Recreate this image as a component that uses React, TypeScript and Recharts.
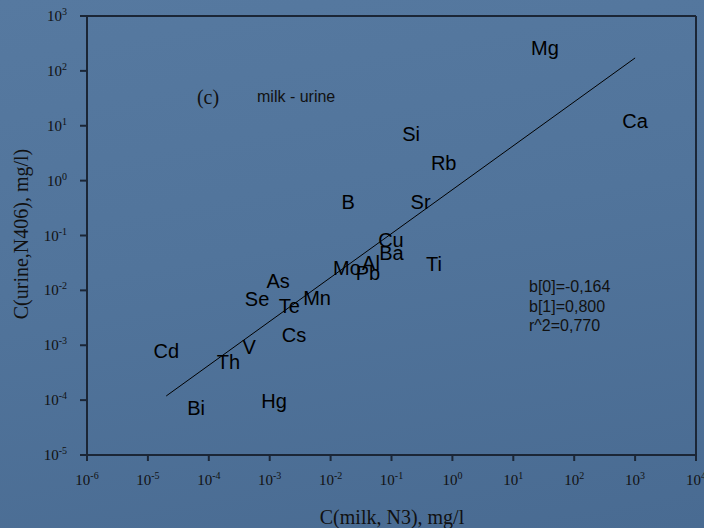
import { ScatterChart, Scatter, XAxis, YAxis, ReferenceLine } from "recharts";

// element symbols, milk concentration (x) and urine concentration (y), mg/l
const elements = ["Mg", "Ca", "Si", "Rb", "B", "Sr", "Cu", "Ba", "Ti", "Mo", "Al", "Pb", "As", "Se", "Te", "Mn", "Cs", "V", "Th", "Cd", "Bi", "Hg"];
const milk = [33, 1000, 0.21, 0.72, 0.0195, 0.3, 0.098, 0.1, 0.5, 0.0186, 0.046, 0.041, 0.00138, 0.00062, 0.0021, 0.006, 0.0025, 0.00046, 0.00021, 0.00002, 0.000062, 0.00118];
const urine = [263, 12.3, 7.1, 2.1, 0.41, 0.41, 0.083, 0.048, 0.03, 0.026, 0.032, 0.021, 0.0148, 0.0071, 0.0052, 0.0072, 0.00155, 0.00093, 0.0005, 0.00079, 0.000072, 0.000098];

// regression line endpoints (log-log fit)
const fitStart = { x: 0.00002, y: 0.000119 };
const fitEnd = { x: 1000, y: 172 };

const xTicks = [1e-6, 1e-5, 1e-4, 1e-3, 1e-2, 1e-1, 1, 10, 100, 1000, 10000];
const yTicks = [1e-5, 1e-4, 1e-3, 1e-2, 1e-1, 1, 10, 100, 1000];

const fitLines = ["b[0]=-0,164", "b[1]=0,800", "r^2=0,770"];

const data = elements.map((name, i) => ({ name, x: milk[i], y: urine[i] }));

const axisColor = "#1b2636";
const serif = "'Liberation Serif', 'Times New Roman', serif";
const sans = "'Liberation Sans', Arial, sans-serif";

function exp(v: number) {
	return String(Math.round(Math.log10(v)));
}

function XTick(props: any) {
	const { x, y, payload } = props;
	return (
		<text x={x} y={y + 22} textAnchor="middle" fontFamily={serif} fontSize={15} fill="#111">
			<tspan>10</tspan>
			<tspan dy={-6} fontSize={10}>{exp(payload.value)}</tspan>
		</text>
	);
}

function YTick(props: any) {
	const { x, y, payload } = props;
	return (
		<text x={x - 11} y={y + 5} textAnchor="end" fontFamily={serif} fontSize={15} fill="#111">
			<tspan>10</tspan>
			<tspan dy={-6} fontSize={10}>{exp(payload.value)}</tspan>
		</text>
	);
}

function ElementLabel(props: any) {
	const { cx, cy, payload } = props;
	return (
		<text x={cx} y={cy} textAnchor="middle" dominantBaseline="central" fontFamily={sans} fontSize={20} fill="#000">
			{payload.name}
		</text>
	);
}

export default function App() {
	return (
		<div
			style={{
				position: "fixed",
				left: 0,
				top: 0,
				width: 704,
				height: 528,
				background: "linear-gradient(170deg, #5679a0 0%, #51749b 45%, #496b92 100%)",
				overflow: "hidden",
			}}
		>
			<ScatterChart width={704} height={528} margin={{ top: 16, right: 8, bottom: 0, left: 0 }}>
				<XAxis
					type="number"
					dataKey="x"
					scale="log"
					domain={[1e-6, 1e4]}
					ticks={xTicks}
					interval={0}
					allowDataOverflow
					height={73}
					stroke={axisColor}
					strokeWidth={2}
					tickSize={6}
					tick={<XTick />}
				/>
				<YAxis
					type="number"
					dataKey="y"
					scale="log"
					domain={[1e-5, 1e3]}
					ticks={yTicks}
					interval={0}
					allowDataOverflow
					width={87}
					stroke={axisColor}
					strokeWidth={2}
					tickSize={7}
					tick={<YTick />}
				/>
				<ReferenceLine y={1000} stroke={axisColor} strokeWidth={2} />
				<ReferenceLine x={10000} stroke={axisColor} strokeWidth={2} />
				<ReferenceLine segment={[fitStart, fitEnd]} stroke="#000" strokeWidth={1} />
				<Scatter data={data} shape={<ElementLabel />} isAnimationActive={false} />
			</ScatterChart>

			<div style={{ position: "absolute", left: 208, top: 97, transform: "translate(-50%, -50%)", fontFamily: serif, fontSize: 20, color: "#111" }}>
				(c)
			</div>
			<div style={{ position: "absolute", left: 257, top: 97, transform: "translateY(-50%)", fontFamily: sans, fontSize: 16, color: "#111", whiteSpace: "nowrap" }}>
				milk - urine
			</div>
			<div style={{ position: "absolute", left: 529, top: 277, fontFamily: sans, fontSize: 16, lineHeight: "19.5px", color: "#111" }}>
				{fitLines.map((t) => (
					<div key={t}>{t}</div>
				))}
			</div>
			<div style={{ position: "absolute", left: 392, top: 517, transform: "translate(-50%, -50%)", fontFamily: serif, fontSize: 20, color: "#111", whiteSpace: "nowrap" }}>
				C(milk, N3), mg/l
			</div>
			<div style={{ position: "absolute", left: 21, top: 234, transform: "translate(-50%, -50%) rotate(-90deg)", fontFamily: serif, fontSize: 20, color: "#111", whiteSpace: "nowrap" }}>
				C(urine,N406), mg/l)
			</div>
		</div>
	);
}
